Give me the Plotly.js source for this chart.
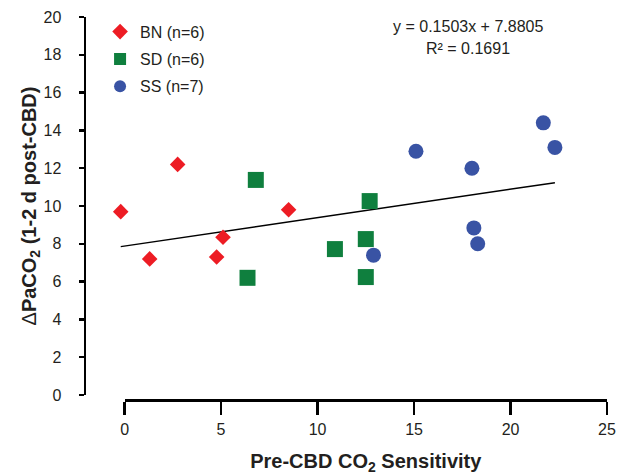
<!DOCTYPE html>
<html><head><meta charset="utf-8">
<script src="https://cdn.plot.ly/plotly-3.0.1.min.js"></script>
<style>html,body{margin:0;padding:0;background:#fff}#chart{width:617px;height:475px}</style>
</head><body><div id="chart"></div>
<script>
// Data
const bnX = [-0.2, 1.3, 2.75, 4.77, 5.1, 8.5];
const bnY = [9.7, 7.2, 12.2, 7.3, 8.35, 9.8];
const sdX = [6.37, 6.8, 10.9, 12.5, 12.5, 12.7];
const sdY = [6.2, 11.38, 7.72, 8.25, 6.24, 10.26];
const ssX = [12.9, 15.1, 18.0, 18.1, 18.3, 21.7, 22.3];
const ssY = [7.4, 12.9, 12.0, 8.84, 8.0, 14.4, 13.1];
const seriesNames = ['BN (n=6)', 'SD (n=6)', 'SS (n=7)'];
const slope = 0.1503, intercept = 7.8805, r2 = 0.1691;
const xTicks = [0, 5, 10, 15, 20, 25];
const yTicks = [0, 2, 4, 6, 8, 10, 12, 14, 16, 18, 20];

const allX = bnX.concat(sdX, ssX);
const xMin = Math.min(...allX), xMax = Math.max(...allX);
const fitX = [xMin, xMax];
const fitY = fitX.map(v => slope * v + intercept);

const FONT = 'Liberation Sans, Arial, sans-serif';
const TXT = '#231f20';

const traces = [
  {x: fitX, y: fitY, mode: 'lines', line: {color: '#000', width: 1.5}, showlegend: false, hoverinfo: 'skip'},
  {x: bnX, y: bnY, mode: 'markers', name: seriesNames[0], legendgroup: 'a',
   marker: {symbol: 'diamond', size: 12, color: '#ed1c24'}},
  {x: sdX, y: sdY, mode: 'markers', name: seriesNames[1], legendgroup: 'b',
   marker: {symbol: 'square', size: 16, color: '#0f7f3e'}},
  {x: ssX, y: ssY, mode: 'markers', name: seriesNames[2], legendgroup: 'c',
   marker: {symbol: 'circle', size: 15, color: '#3953a4'}},
  // empty trace so the bottom axis (x2) gets a subplot and is drawn
  {x: [], y: [], xaxis: 'x2', yaxis: 'y', mode: 'markers', showlegend: false, hoverinfo: 'skip'}
];

const layout = {
  width: 617, height: 475,
  margin: {l: 86, r: 10, t: 17, b: 75},
  paper_bgcolor: '#fff', plot_bgcolor: 'rgba(0,0,0,0)',
  font: {family: FONT, size: 16, color: TXT},
  showlegend: true,
  legend: {x: 0.027, y: 1.006, xanchor: 'left', yanchor: 'top', traceorder: 'grouped',
           tracegroupgap: 3.5, itemsizing: 'constant', font: {size: 16, color: TXT},
           bgcolor: 'rgba(0,0,0,0)'},
  xaxis: {range: [-2, 25], domain: [0, 1], showline: false, showgrid: false, zeroline: false,
          ticks: '', showticklabels: false, fixedrange: true},
  xaxis2: {range: [0, 25], domain: [2/27, 1], anchor: 'free', position: 0,
           showline: true, linewidth: 2.5, linecolor: '#000', showgrid: false, zeroline: false,
           ticks: 'outside', ticklen: 13, tickwidth: 2.5, tickcolor: '#000', ticklabelstandoff: 1,
           tickvals: xTicks, ticktext: xTicks.map(String), tickfont: {size: 16, color: TXT},
           title: {text: '<b>Pre-CBD CO<sub>2</sub> Sensitivity</b>', font: {size: 20, color: TXT}, standoff: 18}},
  yaxis: {range: [0, 20], domain: [5/383, 1], anchor: 'x', showline: true, linewidth: 2.5, linecolor: '#000',
          showgrid: false, zeroline: false, ticks: 'outside', ticklen: 5, tickwidth: 2.5, tickcolor: '#000',
          ticklabelstandoff: 14,
          tickvals: yTicks, ticktext: yTicks.map(String), tickfont: {size: 16, color: TXT},
          title: {text: "<b><span style='font-weight:normal'>Δ</span>PaCO<sub>2</sub> (1-2 d post-CBD)</b>", font: {size: 20, color: TXT}, standoff: 0}},
  annotations: [
    {xref: 'paper', yref: 'paper', x: 0.733, y: 0.9765, xanchor: 'center', yanchor: 'middle', showarrow: false,
     text: 'y = ' + slope.toFixed(4) + 'x + ' + intercept.toFixed(4), font: {size: 16, color: TXT}},
    {xref: 'paper', yref: 'paper', x: 0.733, y: 0.919, xanchor: 'center', yanchor: 'middle', showarrow: false,
     text: 'R² = ' + r2.toFixed(4), font: {size: 16, color: TXT}}
  ]
};

Plotly.newPlot('chart', traces, layout, {staticPlot: true, displayModeBar: false});
</script></body></html>
